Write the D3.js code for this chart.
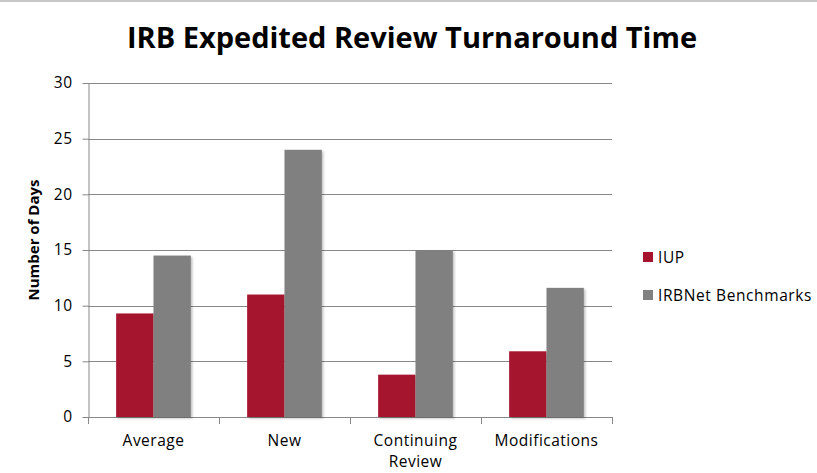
<!DOCTYPE html>
<html>
<head>
<meta charset="utf-8">
<script src="https://cdn.jsdelivr.net/npm/d3@7"></script>
<style>
  body { margin: 0; background: #fff; }
  svg { display: block; font-family: "Open Sans", Lato, sans-serif; }
</style>
</head>
<body>
<svg id="chart" width="817" height="473"></svg>
<script>
// chart data
const categories = ['Average', 'New', 'Continuing Review', 'Modifications'];
const seriesNames = ['IUP', 'IRBNet Benchmarks'];
const iupValues = [9.3, 11, 3.8, 5.9];
const benchmarkValues = [14.5, 24, 15, 11.6];
const yTicks = [0, 5, 10, 15, 20, 25, 30];
const colors = ['#a5132d', '#808080'];

const svg = d3.select('#chart');
const margin = { top: 83, left: 88, right: 205, bottom: 56 };
const width = 817 - margin.left - margin.right;
const height = 473 - margin.top - margin.bottom;

// thin frame line at top
svg.append('rect').attr('x', 0).attr('y', 0).attr('width', 817).attr('height', 2).attr('fill', '#c8c8c8');

// title
svg.append('text')
  .attr('x', 412).attr('y', 48)
  .attr('text-anchor', 'middle')
  .attr('font-size', 29).attr('font-weight', 'bold').attr('fill', '#000')
  .text('IRB Expedited Review Turnaround Time');

const g = svg.append('g').attr('transform', `translate(${margin.left},${margin.top})`);

const x0 = d3.scaleBand().domain(categories).range([0, width]).paddingInner(0.43).paddingOuter(0.215);
const x1 = d3.scaleBand().domain(seriesNames).range([0, x0.bandwidth()]);
const y = d3.scaleLinear().domain([0, 30]).range([height, 0]);

// gridlines
g.append('g').selectAll('line').data(yTicks).enter().append('line')
  .attr('x1', 0).attr('x2', width)
  .attr('y1', d => Math.round(y(d)) + 0.5).attr('y2', d => Math.round(y(d)) + 0.5)
  .attr('stroke', '#888').attr('stroke-width', 1);

// y axis
const yAxis = g.append('g').attr('transform', 'translate(0.5,0)')
  .call(d3.axisLeft(y).tickValues(yTicks).tickSize(6).tickPadding(10).tickSizeOuter(0));
yAxis.select('.domain').attr('stroke', '#888');
yAxis.selectAll('.tick line').attr('stroke', '#888');
yAxis.selectAll('.tick text').attr('font-size', 15.5).attr('fill', '#000')
  .attr('font-family', '"Open Sans", sans-serif').attr('letter-spacing', 0.5);

// x axis: ticks at category boundaries
const boundaries = d3.range(categories.length + 1).map(i => i * x0.step());
g.append('g').selectAll('line').data(boundaries).enter().append('line')
  .attr('x1', d => Math.round(d) + 0.5).attr('x2', d => Math.round(d) + 0.5)
  .attr('y1', height).attr('y2', height + 7)
  .attr('stroke', '#888');

const xLabels = g.append('g').selectAll('text').data(categories).enter().append('text')
  .attr('x', d => x0(d) + x0.bandwidth() / 2)
  .attr('y', height + 29)
  .attr('text-anchor', 'middle')
  .attr('font-size', 15.5).attr('letter-spacing', 0.5).attr('fill', '#000');
xLabels.each(function(d) {
  const words = d === 'Continuing Review' ? ['Continuing', 'Review'] : [d];
  const t = d3.select(this);
  words.forEach((w, i) => t.append('tspan').attr('x', x0(d) + x0.bandwidth() / 2).attr('dy', i ? 21 : 0).text(w));
});

// shadow filter for bars
const defs = svg.append('defs');
const f = defs.append('filter').attr('id', 'sh').attr('x', '-20%').attr('y', '-5%').attr('width', '140%').attr('height', '115%');
f.append('feDropShadow').attr('dx', 1.5).attr('dy', 1.5).attr('stdDeviation', 1.2).attr('flood-color', '#000').attr('flood-opacity', 0.25);

const rows = categories.map((c, i) => ({ cat: c, vals: [iupValues[i], benchmarkValues[i]] }));
const groups = g.selectAll('.grp').data(rows).enter().append('g')
  .attr('class', 'grp')
  .attr('transform', d => `translate(${x0(d.cat)},0)`);
groups.selectAll('rect').data(d => d.vals.map((v, i) => ({ name: seriesNames[i], v, i }))).enter().append('rect')
  .attr('x', d => x1(d.name))
  .attr('y', d => y(d.v))
  .attr('width', x1.bandwidth())
  .attr('height', d => height - y(d.v))
  .attr('fill', d => colors[d.i])
  .attr('filter', 'url(#sh)');

// y axis title
svg.append('text')
  .attr('transform', 'translate(39,240) rotate(-90)')
  .attr('text-anchor', 'middle')
  .attr('font-size', 15).attr('font-weight', 'bold').attr('fill', '#000')
  .text('Number of Days');

// legend
const legend = svg.append('g').attr('transform', 'translate(643,252)');
seriesNames.forEach((s, i) => {
  const row = legend.append('g').attr('transform', `translate(0,${i * 38})`);
  row.append('rect').attr('width', 10).attr('height', 10).attr('fill', colors[i]);
  row.append('text').attr('x', 15).attr('y', 10.5).attr('font-size', 15.5)
    .attr('letter-spacing', 0.6).attr('fill', '#000').text(s);
});
</script>
</body>
</html>
